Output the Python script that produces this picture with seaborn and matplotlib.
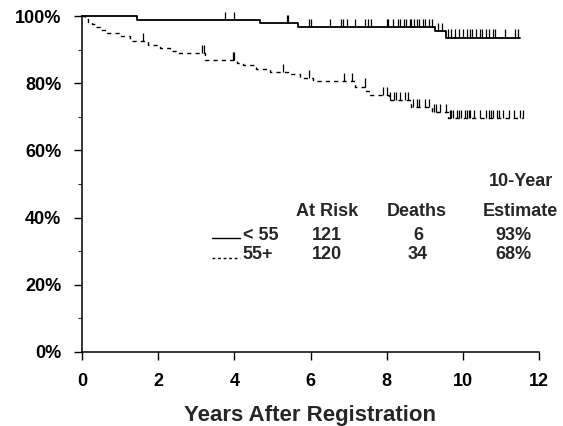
#!/usr/bin/env python3
"""
Overall survival by age group (Kaplan-Meier style step curves)
"""

import numpy as np
import pandas as pd
import matplotlib
matplotlib.use("Agg")
import matplotlib.pyplot as plt
import seaborn as sns

# < 55 group: death times (years) and survival (%) just after each
young_times = [1.45, 4.67, 5.66, 9.28, 9.57]
young_surv = [98.8, 97.9, 96.8, 95.5, 93.6]
young_end = 11.5
young_censor = [3.75, 4.0, 5.38, 5.42, 5.96, 6.0, 6.5, 6.8, 6.86, 6.95, 7.17,
                7.43, 7.5, 7.6, 8.0, 8.04, 8.17, 8.3, 8.35, 8.45, 8.5, 8.6,
                8.65, 8.72, 8.8, 8.85, 8.95, 9.0, 9.1, 9.2, 9.35, 9.45, 9.62,
                9.7, 9.8, 9.9, 10.0, 10.1, 10.2, 10.25, 10.35, 10.45, 10.5,
                10.6, 10.7, 10.8, 10.85, 11.1, 11.37, 11.45]

# 55+ group
old_times = [0.08, 0.17, 0.27, 0.38, 0.47, 0.65, 1.0, 1.25, 1.74, 2.05, 2.3,
             2.48, 3.23, 4.08, 4.23, 4.58, 4.93, 5.4, 5.72, 6.06, 7.17, 7.45,
             7.55, 8.05, 8.65, 9.18, 9.62]
old_surv = [99.2, 98.3, 97.5, 96.7, 95.8, 95.0, 94.1, 92.6, 91.4, 90.4, 89.6,
            88.9, 86.9, 86.0, 85.3, 84.3, 83.4, 82.7, 81.6, 80.6, 79.0, 77.6,
            76.4, 74.9, 73.0, 71.5, 69.5]
old_end = 11.57
old_censor = [1.59, 3.14, 3.2, 3.97, 4.0, 5.28, 5.96, 6.88, 7.08, 7.43, 7.9,
              8.0, 8.08, 8.2, 8.25, 8.35, 8.48, 8.55, 8.7, 8.8, 8.85, 9.0,
              9.1, 9.25, 9.3, 9.4, 9.55, 9.65, 9.7, 9.75, 9.85, 9.9, 9.95,
              10.05, 10.1, 10.15, 10.2, 10.3, 10.45, 10.6, 10.7, 10.75, 10.8,
              10.9, 10.95, 11.05, 11.2, 11.35, 11.5, 11.57]

# summary table
group_labels = ["< 55", "55+"]
at_risk = [121, 120]
deaths = [6, 34]
ten_year = ["93%", "68%"]

x_ticks = [0, 2, 4, 6, 8, 10, 12]
y_ticks = [0, 20, 40, 60, 80, 100]


def curve_frame(times, surv, end):
    t = [0.0] + list(times) + [end]
    s = [100.0] + list(surv) + [surv[-1]]
    return pd.DataFrame({"years": t, "surv": s})


def surv_at(times, surv, pts):
    t = np.array([0.0] + list(times))
    s = np.array([100.0] + list(surv))
    idx = np.searchsorted(t, np.asarray(pts), side="right") - 1
    return s[idx]


sns.set_style("ticks")
plt.rcParams["font.family"] = ["Liberation Sans", "DejaVu Sans"]
plt.rcParams["font.weight"] = "bold"

fig = plt.figure(figsize=(5.63, 4.26), dpi=100)
ax = fig.add_axes([82 / 563, 1 - 352 / 426, 457 / 563, 336 / 426])

solid_ls = "-"
dash_ls = (0, (3, 3))

sns.lineplot(data=curve_frame(young_times, young_surv, young_end), x="years",
             y="surv", drawstyle="steps-post", estimator=None, color="k",
             lw=1.3, linestyle=solid_ls, ax=ax, clip_on=False)
sns.lineplot(data=curve_frame(old_times, old_surv, old_end), x="years",
             y="surv", drawstyle="steps-post", estimator=None, color="k",
             lw=1.0, linestyle=dash_ls, ax=ax, clip_on=False)

# censoring marks
for times, surv, cens in [(young_times, young_surv, young_censor),
                          (old_times, old_surv, old_censor)]:
    base = surv_at(times, surv, cens)
    ax.vlines(cens, base, base + 2.4, color="k", lw=0.9, clip_on=False)

ax.set_xlim(0, 12)
ax.set_ylim(0, 100)
ax.set_xticks(x_ticks)
ax.set_xticklabels([str(v) for v in x_ticks])
ax.set_yticks(y_ticks)
ax.set_yticklabels([f"{v}%" for v in y_ticks])
ax.set_yticks([10, 30, 50, 70, 90], minor=True)
ax.tick_params(axis="both", which="major", direction="out", length=6,
               width=1.0, pad=9, labelsize=13, colors="k")
ax.tick_params(axis="y", which="minor", direction="out", length=3, width=0.8)
for lab in ax.get_xticklabels() + ax.get_yticklabels():
    lab.set_fontweight("bold")
sns.despine(ax=ax)
for side in ["left", "bottom"]:
    ax.spines[side].set_linewidth(1.1)
    ax.spines[side].set_color("k")

ax.set_xlabel("Years After Registration", fontsize=16, fontweight="bold",
              labelpad=11)
ax.set_ylabel("")

# legend / summary table
tr = ax.transAxes
fs = 13
ax.text(0.536, 0.417, "At Risk", transform=tr, ha="center", va="center",
        fontsize=fs, fontweight="bold")
ax.text(0.732, 0.417, "Deaths", transform=tr, ha="center", va="center",
        fontsize=fs, fontweight="bold")
ax.text(0.960, 0.506, "10-Year", transform=tr, ha="center", va="center",
        fontsize=fs, fontweight="bold")
ax.text(0.960, 0.417, "Estimate", transform=tr, ha="center", va="center",
        fontsize=fs, fontweight="bold")

row_y = [0.348, 0.290]
row_ls = [solid_ls, (0, (2, 2))]
for i, lab in enumerate(group_labels):
    y = row_y[i]
    ax.plot([0.284, 0.346], [y - 0.01, y - 0.01], transform=tr, color="k",
            lw=1.0, linestyle=row_ls[i], clip_on=False)
    ax.text(0.352, y, lab, transform=tr, ha="left", va="center",
            fontsize=fs, fontweight="bold")
    ax.text(0.536, y, str(at_risk[i]), transform=tr, ha="center",
            va="center", fontsize=fs, fontweight="bold")
    ax.text(0.735, y, str(deaths[i]), transform=tr, ha="center",
            va="center", fontsize=fs, fontweight="bold")
    ax.text(0.943, y, ten_year[i], transform=tr, ha="center",
            va="center", fontsize=fs, fontweight="bold")

fig.savefig("out.png", dpi=100)
